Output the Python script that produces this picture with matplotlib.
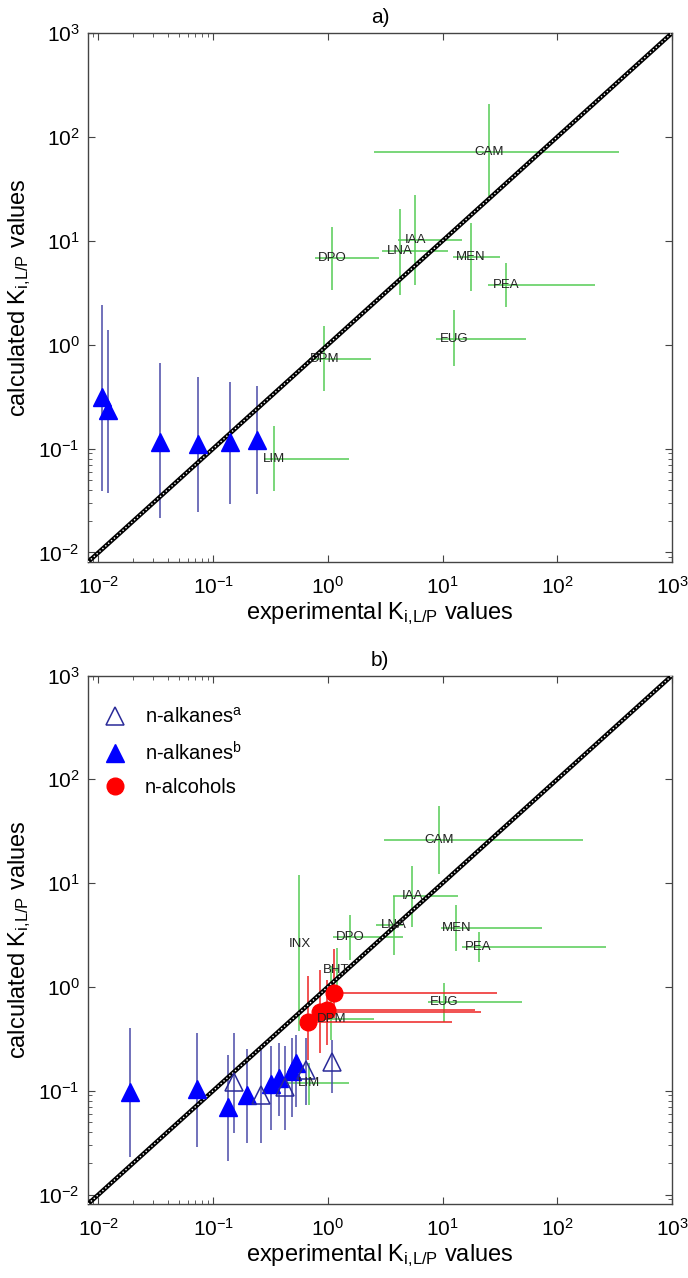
import numpy as np
import matplotlib
matplotlib.use("Agg")
import matplotlib.pyplot as plt
from matplotlib.ticker import FixedLocator, NullFormatter
from matplotlib.lines import Line2D

plt.rcParams['font.family'] = ['Liberation Sans', 'DejaVu Sans']
plt.rcParams['mathtext.fontset'] = 'custom'
plt.rcParams['mathtext.rm'] = 'Liberation Sans'
plt.rcParams['mathtext.it'] = 'Liberation Sans:italic'
plt.rcParams['mathtext.default'] = 'regular'

# ---- panel a) ----
alk_a_x = [0.0108, 0.0121, 0.0346, 0.0736, 0.139, 0.24]
alk_a_y = [0.313, 0.233, 0.115, 0.111, 0.115, 0.121]
alk_a_ylo = [0.039, 0.037, 0.0216, 0.0243, 0.0296, 0.0365]
alk_a_yhi = [2.4, 1.38, 0.66, 0.49, 0.44, 0.40]

cmp_a_names = ['CAM', 'IAA', 'LNA', 'DPO', 'MEN', 'PEA', 'EUG', 'DPM', 'LIM']
cmp_a_x = [25.4, 5.78, 4.22, 1.09, 17.7, 35.7, 12.5, 0.93, 0.337]
cmp_a_y = [71.3, 10.1, 7.89, 6.76, 6.97, 3.78, 1.14, 0.728, 0.0796]
cmp_a_xlo = [2.53, 4.11, 2.94, 0.774, 12.4, 24.7, 8.76, 0.68, 0.28]
cmp_a_xhi = [346, 14.7, 11.1, 2.77, 31.6, 213, 53.3, 2.38, 1.54]
cmp_a_ylo = [26.7, 3.78, 3.03, 3.38, 3.26, 2.33, 0.62, 0.356, 0.0389]
cmp_a_yhi = [208, 27.7, 20.2, 13.7, 14.8, 6.1, 2.14, 1.50, 0.164]

# ---- panel b) ----
alkb_x = [0.0187, 0.072, 0.135, 0.196, 0.32, 0.373, 0.488, 0.528]
alkb_y = [0.0977, 0.103, 0.070, 0.091, 0.116, 0.134, 0.156, 0.186]
alkb_ylo = [0.0232, 0.0286, 0.0212, 0.0316, 0.0419, 0.0571, 0.0562, 0.070]
alkb_yhi = [0.398, 0.356, 0.22, 0.25, 0.269, 0.286, 0.319, 0.343]

alka_x = [0.153, 0.262, 0.426, 0.646, 1.09]
alka_y = [0.122, 0.091, 0.109, 0.158, 0.19]
alka_ylo = [0.0395, 0.0316, 0.042, 0.073, 0.095]
alka_yhi = [0.356, 0.246, 0.27, 0.32, 0.31]

alc_x = [0.676, 0.86, 0.975, 1.14]
alc_y = [0.455, 0.575, 0.597, 0.875]
alc_xlo = [0.6, 0.78, 0.9, 1.05]
alc_xhi = [12.1, 21.6, 19.3, 30.1]
alc_ylo = [0.197, 0.23, 0.275, 0.5]
alc_yhi = [1.27, 1.45, 1.16, 2.3]

cmp_b_names = ['CAM', 'IAA', 'LNA', 'DPO', 'MEN', 'PEA', 'EUG', 'INX', 'BHT', 'DPM', 'LIM']
cmp_b_x = [9.3, 5.45, 3.74, 1.56, 13.2, 20.6, 10.3, 0.565, 1.19, 1.07, 0.69]
cmp_b_y = [26.1, 7.45, 3.92, 3.03, 3.69, 2.42, 0.708, 2.57, 1.47, 0.49, 0.119]
cmp_b_xlo = [3.09, 3.72, 2.63, 1.10, 9.7, 14.8, 7.4, 0.565, 1.15, 0.86, 0.432]
cmp_b_xhi = [168, 13.7, 4.55, 4.55, 73.4, 265, 49.2, 0.565, 1.24, 2.54, 1.54]
cmp_b_ylo = [12.3, 3.77, 2.02, 1.83, 2.22, 1.74, 0.46, 0.38, 0.93, 0.31, 0.073]
cmp_b_yhi = [54.7, 14.6, 7.45, 4.89, 6.1, 3.38, 1.08, 11.9, 2.36, 1.6, 0.185]

LIM = (0.0081, 1000)
GREEN = '#55cc55'
BLUE_ERR = '#4a4aa8'
RED = '#ee2222'


def err(v, lo, hi):
    v = np.array(v); lo = np.array(lo); hi = np.array(hi)
    return [v - lo, hi - v]


def setup_axes(ax, title):
    ax.set_xscale('log')
    ax.set_yscale('log')
    ax.set_xlim(LIM)
    ax.set_ylim(LIM)
    minor = [0.009] + [k * 0.01 for k in range(2, 10)]
    ax.xaxis.set_minor_locator(FixedLocator(minor))
    ax.yaxis.set_minor_locator(FixedLocator(minor))
    ax.xaxis.set_minor_formatter(NullFormatter())
    ax.yaxis.set_minor_formatter(NullFormatter())
    ax.xaxis.set_major_locator(FixedLocator([0.01, 0.1, 1, 10, 100, 1000]))
    ax.yaxis.set_major_locator(FixedLocator([0.01, 0.1, 1, 10, 100, 1000]))
    ax.tick_params(which='both', direction='in', top=True, right=True, labelsize=15, color='#444444')
    ax.tick_params(which='major', length=5)
    ax.tick_params(axis='x', which='major', pad=10)
    ax.tick_params(axis='y', which='major', pad=6)
    ax.tick_params(which='minor', length=3)
    for s in ax.spines.values():
        s.set_color('#444444')
        s.set_linewidth(1.0)
    ax.set_xlabel('experimental K$_{i{,}L/P}$ values', fontsize=17, labelpad=2)
    ax.set_ylabel('calculated K$_{i{,}L/P}$ values', fontsize=17, labelpad=4)
    ax.set_title(title, fontsize=15, pad=7)
    # 1:1 line
    ax.plot(LIM, LIM, color='black', lw=3.2, zorder=3, solid_capstyle='butt')
    ax.plot(LIM, LIM, color='white', lw=1.0, ls=(0, (1.0, 1.8)), zorder=3.1)


def draw_compounds(ax, names, x, y, xlo, xhi, ylo, yhi):
    ax.errorbar(x, y, xerr=err(x, xlo, xhi), yerr=err(y, ylo, yhi), fmt='none',
                ecolor=GREEN, elinewidth=1.1, capsize=0, zorder=2)
    for n, xi, yi in zip(names, x, y):
        ax.text(xi, yi, n, fontsize=9.5, ha='center', va='center', color='#222222', zorder=5)


fig = plt.figure(figsize=(6.88, 12.78), dpi=100)
ax1 = fig.add_axes([88 / 688, 1 - 562 / 1278, 584 / 688, 529 / 1278])
ax2 = fig.add_axes([88 / 688, 1 - 1204 / 1278, 584 / 688, 528.5 / 1278])

# panel a
setup_axes(ax1, 'a)')
draw_compounds(ax1, cmp_a_names, cmp_a_x, cmp_a_y, cmp_a_xlo, cmp_a_xhi, cmp_a_ylo, cmp_a_yhi)
ax1.errorbar(alk_a_x, alk_a_y, yerr=err(alk_a_y, alk_a_ylo, alk_a_yhi), fmt='none',
             ecolor=BLUE_ERR, elinewidth=1.1, capsize=0, zorder=2)
ax1.plot(alk_a_x, alk_a_y, ls='none', marker='^', ms=13, color='#0000ff', zorder=4)

# panel b
setup_axes(ax2, 'b)')
draw_compounds(ax2, cmp_b_names, cmp_b_x, cmp_b_y, cmp_b_xlo, cmp_b_xhi, cmp_b_ylo, cmp_b_yhi)
ax2.errorbar(alkb_x, alkb_y, yerr=err(alkb_y, alkb_ylo, alkb_yhi), fmt='none',
             ecolor=BLUE_ERR, elinewidth=1.1, capsize=0, zorder=2)
ax2.errorbar(alka_x, alka_y, yerr=err(alka_y, alka_ylo, alka_yhi), fmt='none',
             ecolor=BLUE_ERR, elinewidth=1.1, capsize=0, zorder=2)
ax2.errorbar(alc_x, alc_y, xerr=err(alc_x, alc_xlo, alc_xhi), yerr=err(alc_y, alc_ylo, alc_yhi),
             fmt='none', ecolor=RED, elinewidth=1.1, capsize=0, zorder=2.5)
ax2.plot(alkb_x, alkb_y, ls='none', marker='^', ms=13, color='#0000ff', zorder=4)
ax2.plot(alka_x, alka_y, ls='none', marker='^', ms=13, mfc='none', mec='#2a2a99', mew=1.1, zorder=4)
ax2.plot(alc_x, alc_y, ls='none', marker='o', ms=12, color='#ff0000', zorder=4)

handles = [
    Line2D([], [], ls='none', marker='^', ms=13, mfc='none', mec='#2a2a99', mew=1.1),
    Line2D([], [], ls='none', marker='^', ms=13, color='#0000ff'),
    Line2D([], [], ls='none', marker='o', ms=12, color='#ff0000'),
]
ax2.legend(handles, ['n-alkanes$^{a}$', 'n-alkanes$^{b}$', 'n-alcohols'],
           loc='upper left', bbox_to_anchor=(-0.02, 0.975), frameon=False, fontsize=14.5,
           handletextpad=0.5, labelspacing=0.7, borderaxespad=0.5)

fig.savefig('out.png', dpi=100)
